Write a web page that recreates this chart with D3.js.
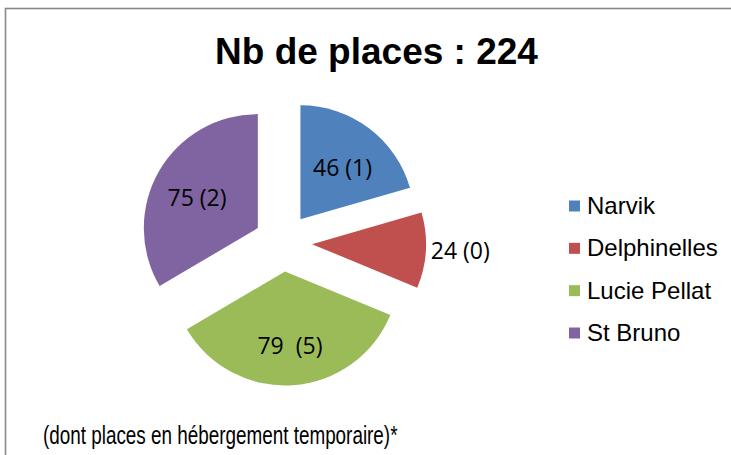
<!DOCTYPE html>
<html>
<head>
<meta charset="utf-8">
<script src="https://cdn.jsdelivr.net/npm/d3@7"></script>
<style>
  html, body { margin: 0; padding: 0; background: #fff; }
  svg { display: block; }
  text { white-space: pre; }
</style>
</head>
<body>
<script>
// data
var categories = ["Narvik", "Delphinelles", "Lucie Pellat", "St Bruno"];
var places = [46, 24, 79, 75];
var temporaires = [1, 0, 5, 2];
var labels = ["46 (1)", "24 (0)", "79  (5)", "75 (2)"];
var colors = ["#4F81BD", "#C0504D", "#9BBB59", "#8064A2"];
var title = "Nb de places : 224";
var footnote = "(dont places en hébergement temporaire)*";

var w = 731, h = 455;

var svg = d3.select("body").append("svg")
  .attr("width", w)
  .attr("height", h);

svg.append("rect")
  .attr("width", w).attr("height", h)
  .attr("fill", "#fff");

// chart frame, runs off right and bottom
svg.append("rect")
  .attr("x", 5.5).attr("y", 8.5)
  .attr("width", 760).attr("height", 470)
  .attr("fill", "none")
  .attr("stroke", "#888")
  .attr("stroke-width", 1.6);

svg.append("text")
  .attr("x", 376.5).attr("y", 64)
  .attr("text-anchor", "middle")
  .attr("font-family", "'Liberation Sans', Arial, sans-serif")
  .attr("font-weight", "bold")
  .attr("font-size", 37)
  .attr("fill", "#000")
  .text(title);

var rows = categories.map(function (c, i) {
  return { name: c, value: places[i], temp: temporaires[i], label: labels[i], color: colors[i] };
});
var total = d3.sum(places);

var cx = 283, cy = 242.5,
    radius = 114,
    explode = 29;

var pie = d3.pie().sort(null).value(function (d) { return d.value; });
var arc = d3.arc().innerRadius(0).outerRadius(radius);

var g = svg.append("g").attr("transform", "translate(" + cx + "," + cy + ")");

var slices = g.selectAll("g.slice")
  .data(pie(rows))
  .enter().append("g")
  .attr("class", "slice")
  .attr("transform", function (d) {
    var a = (d.startAngle + d.endAngle) / 2;
    return "translate(" + (explode * Math.sin(a)) + "," + (-explode * Math.cos(a)) + ")";
  });

slices.append("path")
  .attr("d", arc)
  .attr("fill", function (d) { return d.data.color; });

// small slices get their label outside the edge
function isSmall(d) { return d.data.value / total < 0.15; }
function labelDist(d) { return isSmall(d) ? radius + 5 : 70; }

slices.append("text")
  .attr("font-family", "'Open Sans', sans-serif")
  .attr("font-size", 23)
  .attr("fill", "#000")
  .attr("dy", function (d) { return isSmall(d) ? "0.36em" : "0.55em"; })
  .attr("text-anchor", function (d) { return isSmall(d) ? "start" : "middle"; })
  .attr("x", function (d) {
    var a = (d.startAngle + d.endAngle) / 2;
    return labelDist(d) * Math.sin(a);
  })
  .attr("y", function (d) {
    var a = (d.startAngle + d.endAngle) / 2;
    return -labelDist(d) * Math.cos(a);
  })
  .text(function (d) { return d.data.label; });

// legend
var ly = d3.scalePoint().domain(categories).range([206, 333]);

var legend = svg.append("g").selectAll("g")
  .data(rows)
  .enter().append("g")
  .attr("transform", function (d) { return "translate(569," + ly(d.name) + ")"; });

legend.append("rect")
  .attr("x", 0).attr("y", -5.5)
  .attr("width", 11).attr("height", 11)
  .attr("fill", function (d) { return d.color; });

legend.append("text")
  .attr("x", 18).attr("y", 8)
  .attr("font-family", "'Liberation Sans', Arial, sans-serif")
  .attr("font-size", 24)
  .attr("fill", "#000")
  .text(function (d) { return d.name; });

svg.append("text")
  .attr("transform", "translate(43,444) scale(0.755,1)")
  .attr("font-family", "'Liberation Sans', Arial, sans-serif")
  .attr("font-size", 25)
  .attr("fill", "#000")
  .text(footnote);
</script>
</body>
</html>
